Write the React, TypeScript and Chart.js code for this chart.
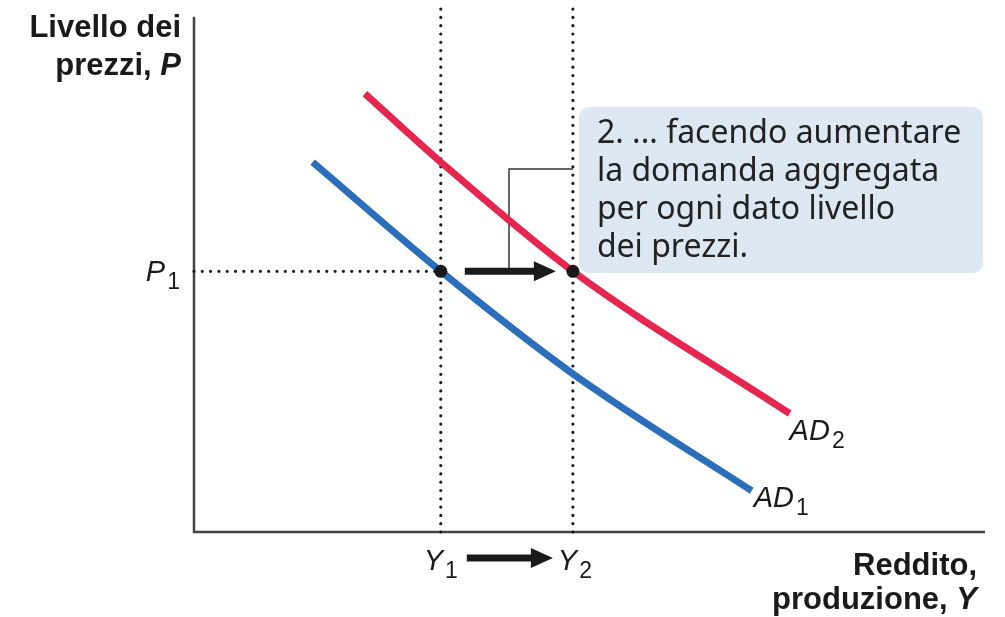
import React, { useEffect, useRef } from "react";
import { Chart, registerables } from "chart.js";

Chart.register(...registerables);

// Curve AD1 (blue) – output Y vs price level P
const AD1_Y = [15.0, 31.2, 47.9, 70.5];
const AD1_P = [71.8, 50.6, 30.7, 8.0];
// Curve AD2 (red)
const AD2_Y = [21.6, 31.2, 47.9, 75.3];
const AD2_P = [85.1, 71.8, 50.6, 23.0];
// Equilibrium values
const Y1 = 31.2;
const Y2 = 47.9;
const P1 = 50.6;
const X_MAX = 100;
const Y_MAX = 102;
const AXIS_TOP = 100;

const NOTE_LINES = [
  "2. ... facendo aumentare",
  "la domanda aggregata",
  "per ogni dato livello",
  "dei prezzi.",
];

const BLUE = "#2b6fbc";
const RED = "#e6264f";
const INK = "#1a1a1a";
const SANS = `"Liberation Sans", Arial, sans-serif`;

const toXY = (xs: number[], ys: number[]) => xs.map((x, i) => ({ x, y: ys[i] }));

function drawArrow(ctx: CanvasRenderingContext2D, x0: number, x1: number, y: number) {
  const head = 22;
  const hw = 10;
  ctx.save();
  ctx.strokeStyle = INK;
  ctx.fillStyle = INK;
  ctx.lineWidth = 7;
  ctx.beginPath();
  ctx.moveTo(x0, y);
  ctx.lineTo(x1 - head + 2, y);
  ctx.stroke();
  ctx.beginPath();
  ctx.moveTo(x1, y);
  ctx.lineTo(x1 - head, y - hw);
  ctx.lineTo(x1 - head, y + hw);
  ctx.closePath();
  ctx.fill();
  ctx.restore();
}

function drawSub(
  ctx: CanvasRenderingContext2D,
  main: string,
  sub: string,
  x: number,
  y: number,
  align: "left" | "center" | "right",
  size = 29
) {
  ctx.save();
  ctx.fillStyle = INK;
  ctx.textBaseline = "alphabetic";
  ctx.textAlign = "left";
  const fMain = `italic ${size}px ${SANS}`;
  const fSub = `${Math.round(size * 0.78)}px ${SANS}`;
  ctx.font = fMain;
  const wm = ctx.measureText(main).width;
  ctx.font = fSub;
  const ws = ctx.measureText(sub).width;
  const total = wm + 2 + ws;
  let sx = x;
  if (align === "center") sx = x - total / 2;
  if (align === "right") sx = x - total;
  ctx.font = fMain;
  ctx.fillText(main, sx, y);
  ctx.font = fSub;
  ctx.fillText(sub, sx + wm + 2, y + 8);
  ctx.restore();
}

const decor = {
  id: "decor",
  beforeDatasetsDraw(chart: any) {
    const { ctx } = chart;
    const xs = chart.scales.x;
    const ys = chart.scales.y;
    const x0 = xs.getPixelForValue(0);
    const y0 = ys.getPixelForValue(0);
    // axes
    ctx.save();
    ctx.strokeStyle = "#444";
    ctx.lineWidth = 2.5;
    ctx.beginPath();
    ctx.moveTo(x0, ys.getPixelForValue(AXIS_TOP));
    ctx.lineTo(x0, y0);
    ctx.lineTo(xs.getPixelForValue(X_MAX), y0);
    ctx.stroke();
    ctx.restore();

    // annotation box
    const bx = xs.getPixelForValue(Y2) + 6;
    const by = 107;
    const bw = 404;
    const bh = 166;
    ctx.save();
    ctx.fillStyle = "#dde8f3";
    ctx.beginPath();
    (ctx as any).roundRect(bx, by, bw, bh, 10);
    ctx.fill();
    ctx.fillStyle = "#222";
    ctx.font = `32px "Noto Sans", "Open Sans", sans-serif`;
    ctx.textAlign = "left";
    ctx.textBaseline = "alphabetic";
    NOTE_LINES.forEach((t, i) => ctx.fillText(t, bx + 18, by + 36 + i * 38));
    ctx.restore();

    // connector
    const yp = ys.getPixelForValue(P1);
    ctx.save();
    ctx.strokeStyle = "#333";
    ctx.lineWidth = 1.5;
    ctx.beginPath();
    ctx.moveTo(xs.getPixelForValue(Y2), 169);
    ctx.lineTo(509, 169);
    ctx.lineTo(509, yp);
    ctx.stroke();
    ctx.restore();
  },
  afterDatasetsDraw(chart: any) {
    const { ctx } = chart;
    const xs = chart.scales.x;
    const ys = chart.scales.y;
    const px1 = xs.getPixelForValue(Y1);
    const px2 = xs.getPixelForValue(Y2);
    const yp = ys.getPixelForValue(P1);
    const y0 = ys.getPixelForValue(0);

    drawArrow(ctx, px1 + 24, px2 - 17, yp);
    drawArrow(ctx, px1 + 26, px2 - 20, y0 + 26);

    // axis titles
    ctx.save();
    ctx.fillStyle = INK;
    ctx.textAlign = "right";
    ctx.textBaseline = "alphabetic";
    const bold = `bold 31px ${SANS}`;
    const boldIt = `italic bold 31px ${SANS}`;
    ctx.font = bold;
    ctx.fillText("Livello dei", 181, 37);
    ctx.font = boldIt;
    const wp = ctx.measureText("P").width;
    ctx.fillText("P", 181, 75);
    ctx.font = bold;
    ctx.fillText("prezzi, ", 181 - wp, 75);
    ctx.fillText("Reddito,", 977, 575);
    ctx.font = boldIt;
    const wy = ctx.measureText("Y").width;
    ctx.fillText("Y", 977, 609);
    ctx.font = bold;
    ctx.fillText("produzione, ", 977 - wy, 609);
    ctx.restore();

    drawSub(ctx, "P", "1", 180, yp + 10, "right");
    drawSub(ctx, "Y", "1", px1, y0 + 38, "center");
    drawSub(ctx, "Y", "2", px2 + 2, y0 + 38, "center");
    const e2 = AD2_Y.length - 1;
    const e1 = AD1_Y.length - 1;
    drawSub(ctx, "AD", "2", xs.getPixelForValue(AD2_Y[e2]) + 0, ys.getPixelForValue(AD2_P[e2]) + 26, "left");
    drawSub(ctx, "AD", "1", xs.getPixelForValue(AD1_Y[e1]) + 2, ys.getPixelForValue(AD1_P[e1]) + 16, "left");
  },
};

export default function App() {
  const ref = useRef<HTMLCanvasElement | null>(null);
  useEffect(() => {
    if (!ref.current) return;
    const dotted = {
      borderColor: INK,
      borderWidth: 3.2,
      borderDash: [0, 8.3],
      borderCapStyle: "round" as const,
      pointRadius: 0,
      fill: false,
      order: 3,
      clip: false as any,
    };
    const chart = new Chart(ref.current, {
      type: "line",
      data: {
        datasets: [
          {
            label: "eq",
            data: [
              { x: Y1, y: P1 },
              { x: Y2, y: P1 },
            ],
            showLine: false,
            pointRadius: 6.5,
            pointBackgroundColor: INK,
            pointBorderWidth: 0,
            order: 0,
            clip: false as any,
          },
          {
            label: "AD1",
            data: toXY(AD1_Y, AD1_P),
            borderColor: BLUE,
            borderWidth: 7,
            pointRadius: 0,
            cubicInterpolationMode: "monotone",
            order: 1,
            clip: false as any,
          },
          {
            label: "AD2",
            data: toXY(AD2_Y, AD2_P),
            borderColor: RED,
            borderWidth: 7,
            pointRadius: 0,
            cubicInterpolationMode: "monotone",
            order: 1,
            clip: false as any,
          },
          { label: "hP1", data: [{ x: 0, y: P1 }, { x: Y1, y: P1 }], ...dotted },
          { label: "vY1", data: [{ x: Y1, y: 0 }, { x: Y1, y: Y_MAX }], ...dotted },
          { label: "vY2", data: [{ x: Y2, y: 0 }, { x: Y2, y: Y_MAX }], ...dotted },
        ] as any,
      },
      options: {
        responsive: false,
        animation: false,
        layout: { padding: { left: 194, right: 20, top: 0, bottom: 85 } },
        plugins: { legend: { display: false }, tooltip: { enabled: false } },
        scales: {
          x: { type: "linear", min: 0, max: X_MAX, display: false },
          y: { type: "linear", min: 0, max: Y_MAX, display: false },
        },
      },
      plugins: [decor],
    });
    return () => chart.destroy();
  }, []);
  return (
    <div style={{ position: "fixed", left: 0, top: 0, width: 1005, height: 617, background: "#fff" }}>
      <canvas ref={ref} width={1005} height={617} />
    </div>
  );
}
